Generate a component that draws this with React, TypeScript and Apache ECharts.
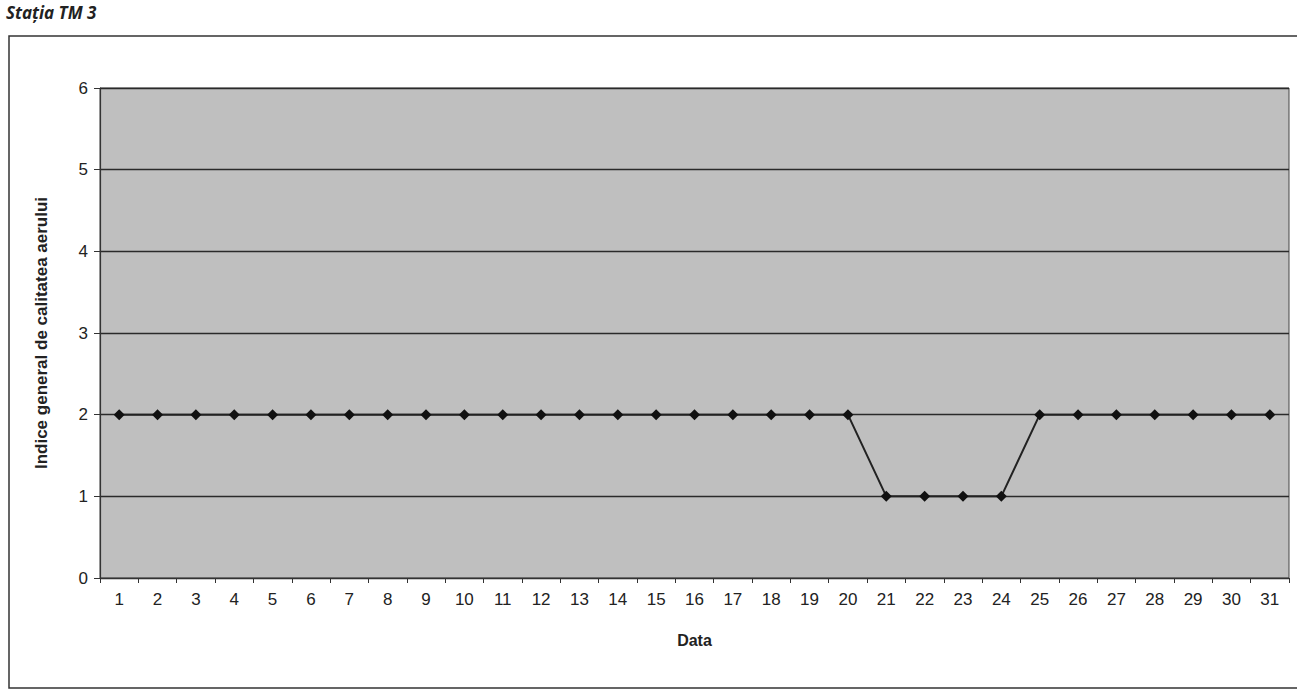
import React, { useEffect, useRef } from "react";
import * as echarts from "echarts";

const days = Array.from({ length: 31 }, (_, i) => String(i + 1));
const indexValues = [
  2, 2, 2, 2, 2, 2, 2, 2, 2, 2, 2, 2, 2, 2, 2, 2, 2, 2, 2, 2,
  1, 1, 1, 1,
  2, 2, 2, 2, 2, 2, 2,
];
const yTicks = { min: 0, max: 6, interval: 1 };
const titleText = "Stația TM 3";
const yName = "Indice general de calitatea aerului";
const xName = "Data";

export default function App() {
  const ref = useRef<HTMLDivElement>(null);
  useEffect(() => {
    if (!ref.current) return;
    const chart = echarts.init(ref.current, undefined, { renderer: "svg" });
    const font = "'Liberation Sans', Arial, sans-serif";
    chart.setOption({
      animation: false,
      backgroundColor: "#ffffff",
      textStyle: { fontFamily: font },
      graphic: [
        {
          type: "rect",
          shape: { x: 9, y: 36, width: 1300, height: 652 },
          style: { fill: "none", stroke: "#333", lineWidth: 1.5 },
          z: -10,
        },
        {
          type: "text",
          left: 6,
          top: 4,
          style: {
            text: titleText,
            font: "italic bold 17px 'Open Sans', sans-serif",
            fill: "#222",
          },
        },
      ],
      grid: {
        left: 100,
        right: 8,
        top: 88,
        bottom: 117,
        show: true,
        backgroundColor: "#bfbfbf",
        borderColor: "#444",
        borderWidth: 1,
      },
      xAxis: {
        type: "category",
        data: days,
        boundaryGap: true,
        name: xName,
        nameLocation: "middle",
        nameGap: 54,
        nameTextStyle: { fontWeight: "bold", fontSize: 16, color: "#222", fontFamily: font },
        axisLine: { show: true, lineStyle: { color: "#333", width: 1.2 } },
        axisTick: { show: true, length: 5, lineStyle: { color: "#333" } },
        axisLabel: { color: "#222", fontSize: 17, margin: 13, fontFamily: font },
        splitLine: { show: false },
      },
      yAxis: {
        type: "value",
        min: yTicks.min,
        max: yTicks.max,
        interval: yTicks.interval,
        name: yName,
        nameLocation: "middle",
        nameGap: 50,
        nameTextStyle: { fontWeight: "bold", fontSize: 17, color: "#222", fontFamily: font },
        axisLine: { show: true, lineStyle: { color: "#333", width: 1.2 } },
        axisTick: { show: true, length: 6, lineStyle: { color: "#333" } },
        axisLabel: { color: "#222", fontSize: 17, margin: 12, fontFamily: font },
        splitLine: { show: true, lineStyle: { color: "#2a2a2a", width: 1.3 } },
      },
      series: [
        {
          type: "line",
          data: indexValues,
          symbol: "diamond",
          symbolSize: 11,
          lineStyle: { color: "#222", width: 2 },
          itemStyle: { color: "#111" },
        },
      ],
    });
    return () => chart.dispose();
  }, []);
  return (
    <div
      ref={ref}
      style={{ position: "fixed", left: 0, top: 0, width: 1297, height: 695 }}
    />
  );
}
